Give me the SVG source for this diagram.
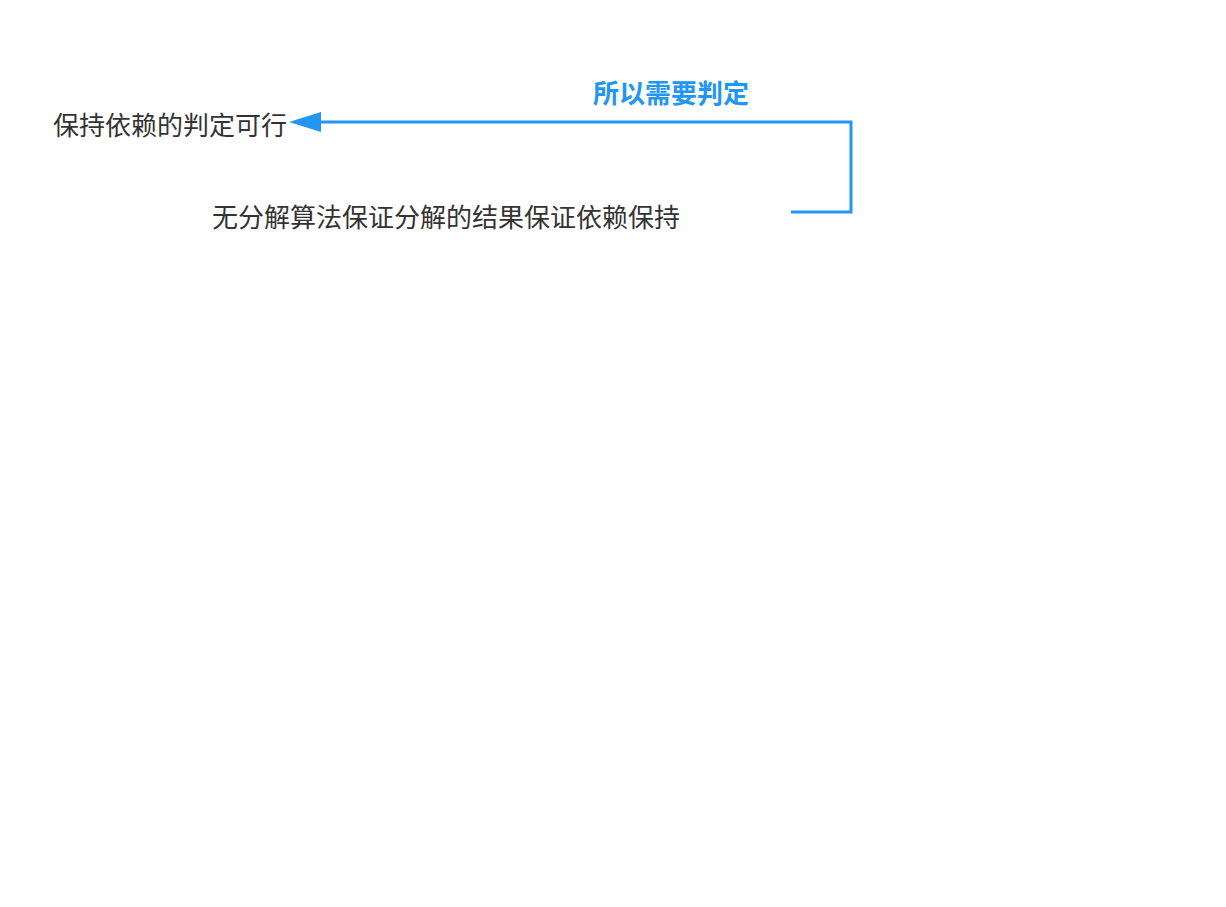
<svg xmlns="http://www.w3.org/2000/svg" width="1226" height="907" viewBox="0 0 1226 907">
<defs>
<style>
.t{font-family:"Noto Sans CJK SC","Noto Sans",sans-serif;font-size:26px;fill:#333333}
.lbl{font-family:"Noto Sans CJK SC","Noto Sans",sans-serif;font-size:26px;font-weight:bold;fill:#2196F3}
.c{fill:none;stroke:#2196F3;stroke-width:3}
</style>
</defs>
<rect width="1226" height="907" fill="#ffffff"/>
<g id="node1"><text class="t" x="53" y="135">保持依赖的判定可行</text></g>
<g id="node2"><text class="t" x="212" y="227" textLength="468" lengthAdjust="spacing">无分解算法保证分解的结果保证依赖保持</text></g>
<g id="connectors">
<path class="c" d="M791,212 H851 V122 H318"/>
<path d="M321,112 L289,122 L321,132 Z" fill="#2196F3"/>
<text class="lbl" x="593" y="103">所以需要判定</text>
</g>
</svg>
